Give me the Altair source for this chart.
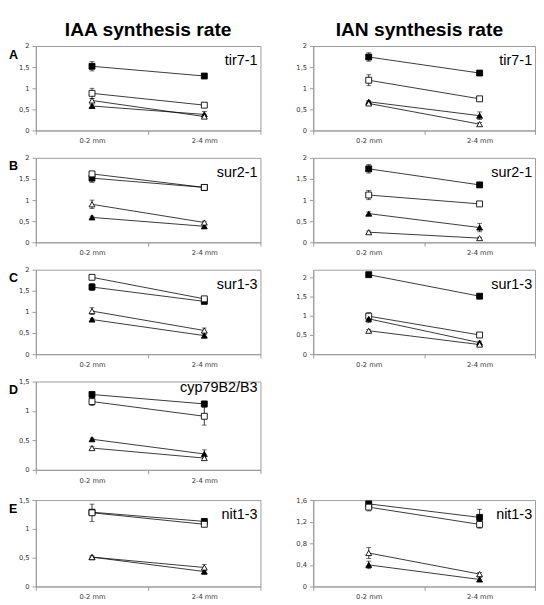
import altair as alt
import pandas as pd

categories = ["0-2 mm", "2-4 mm"]
series = ["filled square", "open square", "filled triangle", "open triangle"]
shapes = ["square", "square", "triangle-up", "triangle-up"]
fills = ["black", "white", "black", "white"]
panel_labels = ["tir7-1", "sur2-1", "sur1-3", "cyp79B2/B3", "nit1-3"]
row_letters = ["A", "B", "C", "D", "E"]
column_titles = ["IAA synthesis rate", "IAN synthesis rate"]

# values per series (filled square, open square, filled triangle, open triangle) at [0-2 mm, 2-4 mm]
iaa_tir7_1 = [[1.52, 1.29], [0.88, 0.60], [0.58, 0.38], [0.71, 0.33]]
iaa_tir7_1_err = [[0.11, 0.04], [0.12, 0.03], [0.04, 0.07], [0.05, 0.04]]
iaa_sur2_1 = [[1.52, 1.30], [1.62, 1.30], [0.59, 0.38], [0.90, 0.47]]
iaa_sur2_1_err = [[0.10, 0.05], [0.04, 0.07], [0.03, 0.05], [0.10, 0.03]]
iaa_sur1_3 = [[1.59, 1.25], [1.82, 1.31], [0.82, 0.44], [1.02, 0.56]]
iaa_sur1_3_err = [[0.08, 0.03], [0.02, 0.05], [0.03, 0.03], [0.08, 0.06]]
iaa_cyp = [[1.28, 1.12], [1.16, 0.91], [0.52, 0.27], [0.37, 0.20]]
iaa_cyp_err = [[0.03, 0.03], [0.07, 0.15], [0.02, 0.07], [0.03, 0.03]]
iaa_nit1_3 = [[1.29, 1.13], [1.28, 1.08], [0.51, 0.26], [0.51, 0.33]]
iaa_nit1_3_err = [[0.03, 0.03], [0.15, 0.04], [0.02, 0.05], [0.02, 0.05]]

ian_tir7_1 = [[1.74, 1.36], [1.19, 0.75], [0.68, 0.35], [0.64, 0.15]]
ian_tir7_1_err = [[0.10, 0.05], [0.13, 0.02], [0.03, 0.09], [0.04, 0.04]]
ian_sur2_1 = [[1.74, 1.36], [1.12, 0.91], [0.68, 0.35], [0.24, 0.10]]
ian_sur2_1_err = [[0.10, 0.04], [0.11, 0.02], [0.04, 0.10], [0.03, 0.02]]
ian_sur1_3 = [[2.07, 1.51], [0.99, 0.50], [0.92, 0.30], [0.61, 0.25]]
ian_sur1_3_err = [[0.05, 0.03], [0.09, 0.05], [0.10, 0.04], [0.03, 0.03]]
ian_nit1_3 = [[1.53, 1.28], [1.47, 1.15], [0.40, 0.13], [0.62, 0.23]]
ian_nit1_3_err = [[0.03, 0.15], [0.07, 0.07], [0.07, 0.04], [0.10, 0.03]]

ticks_2 = [0, 0.5, 1, 1.5, 2]
ticks_15 = [0, 0.5, 1, 1.5]
ticks_16 = [0, 0.4, 0.8, 1.2, 1.6]

GRAY = "#9a9a9a"
LEFT_W, RIGHT_W = 234, 231
HEIGHTS = [88, 88, 88, 92, 90]


def make_df(vals, errs):
    rows = []
    for s, v, e in zip(series, vals, errs):
        for c, vv, ee in zip(categories, v, e):
            rows.append({"series": s, "pos": c, "value": vv, "lo": vv - ee, "hi": vv + ee})
    return pd.DataFrame(rows)


def text_layer(txt, **kw):
    enc = {k: kw.pop(k) for k in ("x", "y")}
    return alt.Chart(pd.DataFrame({"t": [txt]})).mark_text(**kw).encode(text="t:N", **enc)


def panel(vals, errs, label, ymax, ticks, width, height, letter=None, title=None,
          title_dx=0, top_gap=0, label_y=8):
    df = make_df(vals, errs)
    x = alt.X(
        "pos:N",
        sort=categories,
        scale=alt.Scale(domain=categories, paddingInner=0, paddingOuter=0),
        axis=alt.Axis(
            title=None, labelAngle=0, tickBand="extent", labelFontSize=7,
            labelFont="DejaVu Sans", labelColor="#333333", tickColor=GRAY,
            domainColor=GRAY, tickSize=4, labelPadding=3,
        ),
    )
    y_scale = alt.Scale(domain=[0, ymax], nice=False, zero=True)
    y_axis = alt.Axis(
        title=None, values=ticks, grid=False, labelFontSize=7,
        labelFont="DejaVu Sans", labelColor="#333333", tickColor=GRAY,
        domainColor=GRAY, tickSize=4, labelPadding=3,
        labelExpr="replace(format(datum.value, '~g'), '.', ',')",
        minExtent=20, maxExtent=20,
    )
    base = alt.Chart(df).encode(x=x)
    lines = base.mark_line(color="black", strokeWidth=0.8).encode(
        y=alt.Y("value:Q", scale=y_scale, axis=y_axis), detail="series:N"
    )
    bars = base.mark_rule(color="black", strokeWidth=0.8).encode(
        y=alt.Y("lo:Q", scale=y_scale, axis=y_axis), y2="hi:Q"
    )
    cap_lo = base.mark_tick(color="black", size=5, thickness=0.8).encode(
        y=alt.Y("lo:Q", scale=y_scale, axis=y_axis)
    )
    cap_hi = base.mark_tick(color="black", size=5, thickness=0.8).encode(
        y=alt.Y("hi:Q", scale=y_scale, axis=y_axis)
    )
    pts = base.mark_point(filled=True, stroke="black", strokeWidth=0.9, size=38, opacity=1).encode(
        y=alt.Y("value:Q", scale=y_scale, axis=y_axis),
        shape=alt.Shape("series:N", scale=alt.Scale(domain=series, range=shapes), legend=None),
        fill=alt.Fill("series:N", scale=alt.Scale(domain=series, range=fills), legend=None),
    )
    layers = [lines, bars, cap_lo, cap_hi, pts]
    layers.append(text_layer(label, align="right", baseline="top", fontSize=15,
                             font="Liberation Sans", color="black",
                             x=alt.value(width - 3), y=alt.value(label_y)))
    if letter:
        layers.append(text_layer(letter, align="left", baseline="top", fontSize=13,
                                 fontWeight="bold", font="Liberation Sans", color="black",
                                 x=alt.value(-28), y=alt.value(3)))
    if title:
        layers.append(text_layer(title, align="center", baseline="alphabetic", fontSize=20,
                                 fontWeight="bold", font="Liberation Sans",
                                 color="black", x=alt.value(width / 2 + title_dx),
                                 y=alt.value(-10)))
    if top_gap:
        layers.append(text_layer(".", align="left", baseline="top", fontSize=6,
                                 opacity=0, x=alt.value(0), y=alt.value(-top_gap)))
    return alt.layer(*layers).properties(width=width, height=height)


empty = alt.Chart(pd.DataFrame({"t": [""]})).mark_text().encode(text="t:N").properties(
    width=RIGHT_W, height=HEIGHTS[3], view=alt.ViewBackground(stroke="transparent")
)

cells = [
    panel(iaa_tir7_1, iaa_tir7_1_err, panel_labels[0], 2, ticks_2, LEFT_W, HEIGHTS[0],
          row_letters[0], column_titles[0]),
    panel(ian_tir7_1, ian_tir7_1_err, panel_labels[0], 2, ticks_2, RIGHT_W, HEIGHTS[0],
          None, column_titles[1], title_dx=-5),
    panel(iaa_sur2_1, iaa_sur2_1_err, panel_labels[1], 2, ticks_2, LEFT_W, HEIGHTS[1], row_letters[1]),
    panel(ian_sur2_1, ian_sur2_1_err, panel_labels[1], 2, ticks_2, RIGHT_W, HEIGHTS[1]),
    panel(iaa_sur1_3, iaa_sur1_3_err, panel_labels[2], 2, ticks_2, LEFT_W, HEIGHTS[2], row_letters[2]),
    panel(ian_sur1_3, ian_sur1_3_err, panel_labels[2], 2.2, ticks_2, RIGHT_W, HEIGHTS[2]),
    panel(iaa_cyp, iaa_cyp_err, panel_labels[3], 1.5, ticks_15, LEFT_W, HEIGHTS[3], row_letters[3],
          label_y=-1),
    empty,
    panel(iaa_nit1_3, iaa_nit1_3_err, panel_labels[4], 1.5, ticks_15, LEFT_W, HEIGHTS[4], row_letters[4],
          top_gap=7),
    panel(ian_nit1_3, ian_nit1_3_err, panel_labels[4], 1.6, ticks_16, RIGHT_W, HEIGHTS[4]),
]

chart = alt.concat(*cells, columns=2, spacing={"row": 8.5, "column": 33}, align="each").properties(
    padding={"left": 0, "top": 0, "right": 0, "bottom": 0}, background="white"
).configure_view(stroke=GRAY, strokeWidth=1)

chart.save("out.html", embed_options={"renderer": "svg", "actions": False})
